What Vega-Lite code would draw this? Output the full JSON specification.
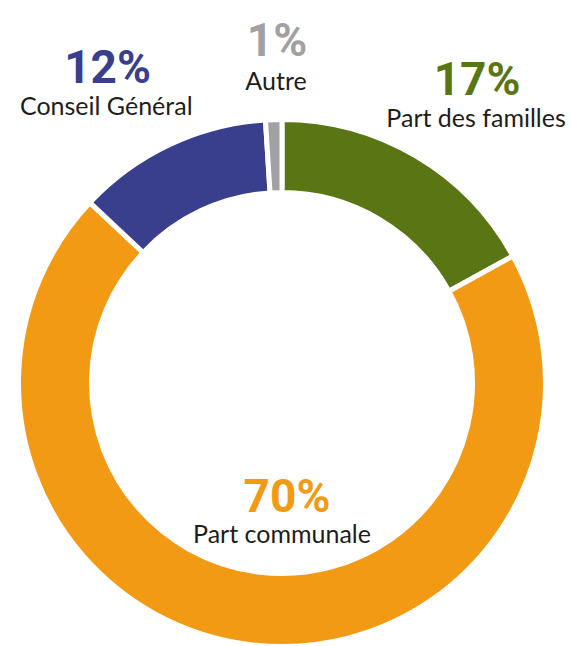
{
  "$schema": "https://vega.github.io/schema/vega-lite/v6.json",
  "width": 564,
  "height": 526,
  "autosize": "none",
  "padding": {"left": 0, "top": 120, "right": 6, "bottom": 0},
  "background": "white",
  "view": {"stroke": null},
  "data": {
    "values": [
      {"cat": "Part des familles", "value": 17, "pct": "17%", "rank": 1},
      {"cat": "Part communale", "value": 70, "pct": "70%", "rank": 2},
      {"cat": "Conseil Général", "value": 12, "pct": "12%", "rank": 3},
      {"cat": "Autre", "value": 1, "pct": "1%", "rank": 4}
    ]
  },
  "encoding": {
    "theta": {"field": "value", "type": "quantitative", "stack": true},
    "order": {"field": "rank", "type": "quantitative"}
  },
  "layer": [
    {
      "mark": {"type": "arc", "outerRadius": 263.5, "innerRadius": 190.5, "stroke": "white", "strokeWidth": 5},
      "encoding": {
        "color": {"field": "cat", "type": "nominal", "legend": null,
          "scale": {"domain": ["Part des familles", "Part communale", "Conseil Général", "Autre"],
                    "range": ["#5a7614", "#f29a13", "#393e8d", "#a1a1a3"]}}
      }
    },
    {
      "mark": {"type": "text", "radius": 340, "dx": 22, "dy": 4.7, "align": "center", "baseline": "alphabetic", "font": "Roboto", "fontSize": 46, "fontWeight": "bold"},
      "encoding": {
        "color": {"field": "cat", "type": "nominal", "legend": null},
        "text": {"condition": {"test": "datum.cat === 'Part des familles'", "field": "pct"}, "value": ""}
      }
    },
    {
      "mark": {"type": "text", "radius": 340, "dx": -29.7, "dy": 7.6, "align": "center", "baseline": "alphabetic", "font": "Roboto", "fontSize": 46, "fontWeight": "bold"},
      "encoding": {
        "color": {"field": "cat", "type": "nominal", "legend": null},
        "text": {"condition": {"test": "datum.cat === 'Conseil Général'", "field": "pct"}, "value": ""}
      }
    },
    {
      "mark": {"type": "text", "radius": 340, "dx": 5.7, "dy": 12.5, "align": "center", "baseline": "alphabetic", "font": "Roboto", "fontSize": 46, "fontWeight": "bold"},
      "encoding": {
        "color": {"field": "cat", "type": "nominal", "legend": null},
        "text": {"condition": {"test": "datum.cat === 'Autre'", "field": "pct"}, "value": ""}
      }
    },
    {
      "mark": {"type": "text", "radius": 110, "dx": 18.8, "dy": 19.9, "align": "center", "baseline": "alphabetic", "font": "Roboto", "fontSize": 46, "fontWeight": "bold"},
      "encoding": {
        "color": {"field": "cat", "type": "nominal", "legend": null},
        "text": {"condition": {"test": "datum.cat === 'Part communale'", "field": "pct"}, "value": ""}
      }
    },
    {
      "mark": {"type": "text", "radius": 340, "dx": 21, "dy": 36.7, "align": "center", "baseline": "alphabetic", "font": "Lato", "fontSize": 25, "color": "#1d1d1b"},
      "encoding": {
        "detail": {"field": "cat", "type": "nominal"},
        "text": {"condition": {"test": "datum.cat === 'Part des familles'", "field": "cat"}, "value": ""}
      }
    },
    {
      "mark": {"type": "text", "radius": 340, "dx": -31, "dy": 39.6, "align": "center", "baseline": "alphabetic", "font": "Lato", "fontSize": 25, "color": "#1d1d1b"},
      "encoding": {
        "detail": {"field": "cat", "type": "nominal"},
        "text": {"condition": {"test": "datum.cat === 'Conseil Général'", "field": "cat"}, "value": ""}
      }
    },
    {
      "mark": {"type": "text", "radius": 340, "dx": 4.7, "dy": 46.8, "align": "center", "baseline": "alphabetic", "font": "Lato", "fontSize": 25, "color": "#1d1d1b"},
      "encoding": {
        "detail": {"field": "cat", "type": "nominal"},
        "text": {"condition": {"test": "datum.cat === 'Autre'", "field": "cat"}, "value": ""}
      }
    },
    {
      "mark": {"type": "text", "radius": 110, "dx": 13.8, "dy": 50.9, "align": "center", "baseline": "alphabetic", "font": "Lato", "fontSize": 25, "color": "#1d1d1b"},
      "encoding": {
        "detail": {"field": "cat", "type": "nominal"},
        "text": {"condition": {"test": "datum.cat === 'Part communale'", "field": "cat"}, "value": ""}
      }
    }
  ]
}
